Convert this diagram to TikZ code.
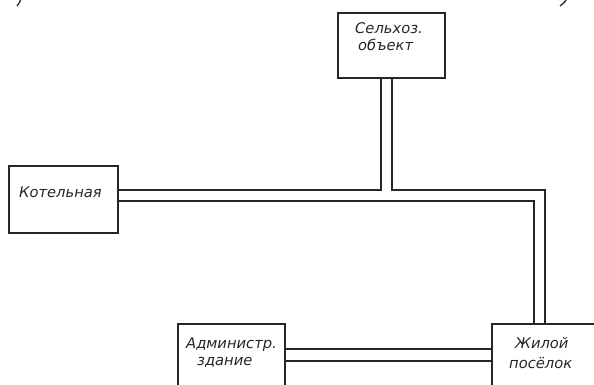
\documentclass[tikz,border=0pt]{standalone}
\usepackage{fontspec}
\setmainfont{DejaVu Sans}
\begin{document}
\begin{tikzpicture}[x=1pt,y=-1pt,
  box/.style={draw=black!85,line width=1.6pt},
  pipe/.style={draw=black!85,line width=1.6pt},
  lbl/.style={anchor=base west,inner sep=0pt,text=black!85,font=\fontsize{14.7}{17}\selectfont\itshape}]
\useasboundingbox (0,0) rectangle (594,385);
\clip (0,0) rectangle (594,385);
% boxes
\node[box,minimum width=107pt,minimum height=65pt,inner sep=0pt,anchor=north west] (S) at (337,12) {};
\node[box,minimum width=109pt,minimum height=67pt,inner sep=0pt,anchor=north west] (K) at (8,165) {};
\node[box,minimum width=107pt,minimum height=90pt,inner sep=0pt,anchor=north west] (A) at (177,323) {};
\node[box,minimum width=120pt,minimum height=90pt,inner sep=0pt,anchor=north west] (Z) at (491,323) {};
% labels
\node[lbl] (s1) at (355,34) {Сельхоз.};
\node[lbl] (s2) at (358,50.5) {объект};
\node[lbl] (k1) at (19,197.5) {Котельная};
\node[lbl] (a1) at (186,348) {Администр.};
\node[lbl] (a2) at (197,365.5) {здание};
\node[lbl] (z1) at (515,348.5) {Жилой};
\node[lbl] (z2) at (509,368) {посёлок};
% pipe coordinates
\coordinate (sl) at (381,0);
\coordinate (sr) at (392,0);
\coordinate (zl) at (534,0);
\coordinate (zr) at (545,0);
\coordinate (top) at (0,190);
\coordinate (bot) at (0,201);
\coordinate (aa) at (0,349);
\coordinate (ab) at (0,361);
% S -> K and S -> Z
\draw[pipe] (sl |- S.south) -- (sl |- top) -- (K.east |- top);
\draw[pipe] (sr |- S.south) -- (sr |- top) -- (zr |- top) -- (zr |- Z.north);
\draw[pipe] (K.east |- bot) -- (zl |- bot) -- (zl |- Z.north);
% A -> Z
\draw[pipe] (A.east |- aa) -- (Z.west |- aa);
\draw[pipe] (A.east |- ab) -- (Z.west |- ab);
% fragments of brackets at the top edge
\draw[black!85,line width=1.3pt] (21,-2) .. controls (20,2) .. (17,6);
\draw[black!85,line width=1.3pt] (567,-2) .. controls (565,2) .. (560,6);
\end{tikzpicture}
\end{document}
